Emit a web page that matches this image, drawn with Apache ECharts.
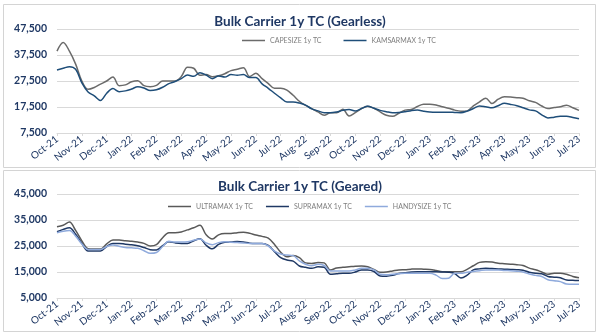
<!DOCTYPE html>
<html>
<head>
<meta charset="utf-8">
<title>Bulk Carrier 1y TC</title>
<script src="https://cdn.jsdelivr.net/npm/echarts@6/dist/echarts.min.js"></script>
<style>
  html, body { margin: 0; padding: 0; background: #ffffff; }
  #chart { width: 600px; height: 333px; }
</style>
</head>
<body>
<div id="chart"></div>
<script>
// Month tick labels, Oct-21 .. Jul-23
const monthLabels = ['Oct-21','Nov-21','Dec-21','Jan-22','Feb-22','Mar-22','Apr-22','May-22','Jun-22',
  'Jul-22','Aug-22','Sep-22','Oct-22','Nov-22','Dec-22','Jan-23','Feb-23','Mar-23','Apr-23','May-23',
  'Jun-23','Jul-23'];

// Four readings per month (roughly weekly), one row per month
const samplesPerMonth = 4;

// Gearless: 1-year time-charter rates, USD/day
const capesize = [
  39000, 42300, 39000, 34000,
  27500, 24300, 25000, 26300,
  27500, 29000, 25700, 26000,
  27200, 27600, 25700, 25300,
  25800, 27500, 27500, 27500,
  29200, 32800, 32400, 29700,
  30000, 29100, 29500, 30300,
  31500, 32000, 32600, 29200,
  30500, 28400, 26500, 24700,
  24700, 24000, 22000, 19700,
  18100, 16900, 15600, 14300,
  15300, 15300, 16600, 14000,
  15300, 16900, 17800, 17000,
  15600, 14300, 13900, 15100,
  16300, 16500, 17700, 18600,
  18600, 18300, 17600, 17000,
  16300, 15900, 16000, 17900,
  19500, 20900, 18800, 20500,
  21400, 21300, 21100, 20900,
  19900, 19300, 17900, 16900,
  17300, 17600, 18200, 17200,
  16200
];
const kamsarmax = [
  31700, 32400, 33000, 32000,
  26800, 23300, 21800, 20000,
  22800, 24600, 23400, 23700,
  24400, 25300, 24800, 23800,
  24100, 25100, 26500, 27300,
  28400, 29800, 29300, 30700,
  29800, 28400, 29400, 29000,
  30000, 29700, 30000, 28800,
  28800, 26400, 24700, 22800,
  21000, 19400, 19400, 19000,
  18200, 16800, 16000, 15300,
  15300, 15600, 16200, 16500,
  16000, 16900, 17800, 17000,
  16200, 15700, 15300, 15400,
  15700, 16100, 16300, 15900,
  15600, 15500, 15500, 15500,
  15400, 15300, 15900, 16900,
  17900, 17600, 17200, 18000,
  18900, 18500, 18000, 17200,
  16400, 16000, 14500, 13300,
  13600, 13900, 13900, 13500,
  13000
];

// Geared: 1-year time-charter rates, USD/day
const ultramax = [
  32400, 33000, 34200, 31000,
  27000, 24000, 23800, 23800,
  25800, 27300, 27300, 27000,
  26800, 26500, 26000, 25000,
  25500, 28200, 30100, 30100,
  30400, 31200, 32000, 33000,
  29300, 27700, 29300, 29800,
  29800, 30100, 30300, 29900,
  29200, 28700, 28000, 25600,
  22600, 20900, 21300, 20500,
  18500, 18300, 18700, 18500,
  15800, 16500, 16800, 17000,
  17200, 17300, 17000, 16000,
  14900, 15000, 15400, 15800,
  15900, 16100, 16200, 16100,
  16000, 15600, 15100, 15100,
  15100, 15100, 16000, 17400,
  18700, 18900, 18800, 18400,
  18200, 18000, 17800, 17500,
  16500, 15900, 15000, 14100,
  14500, 14500, 14100, 13300,
  12800
];
const supramax = [
  30500, 31400, 32000, 29500,
  26000, 23100, 23100, 23100,
  24800, 26000, 26000, 25700,
  25500, 25100, 24400, 23600,
  23500, 25100, 26600, 26200,
  26000, 26000, 27000, 27800,
  25300, 23900, 25600, 26400,
  26500, 26700, 26500, 26100,
  26000, 26000, 25200, 22800,
  20500, 19600, 19200, 17300,
  16800, 16400, 17000, 16800,
  14100, 14300, 14500, 14500,
  15000, 15800, 15800, 15200,
  13500, 13400, 13700, 14400,
  14700, 15000, 15100, 15100,
  15100, 15100, 15000, 14900,
  14400, 12700, 13800, 15800,
  16200, 16400, 16300, 16200,
  16100, 16000, 15900, 15700,
  14900, 14500, 14300, 13300,
  13000, 12800, 11900, 11800,
  11700
];
const handysize = [
  30100, 30700, 31000, 28800,
  25800, 23700, 23700, 23700,
  24800, 25400, 24900, 24400,
  24300, 24100, 23200, 22200,
  22500, 24800, 26800, 26500,
  26500, 26600, 27200, 27700,
  26200, 25500, 26300, 26600,
  26400, 26300, 26200, 26000,
  26000, 26000, 25000, 23000,
  21900, 21500, 21300, 19300,
  18000, 17400, 18000, 17500,
  15400, 15400, 15400, 15400,
  15800, 16400, 16400, 15800,
  14100, 13900, 14100, 14300,
  14500, 14500, 14500, 14500,
  14500, 13800, 12500, 12600,
  14500, 14500, 14900, 15200,
  15500, 15800, 15800, 15800,
  15600, 15500, 15300, 15000,
  14200, 13700, 13300, 12000,
  11600, 11300, 10400, 10300,
  10300
];

// Y-axis ranges and tick step for each panel
const gearlessAxis = { min: 7500, max: 47500, step: 10000 };
const gearedAxis = { min: 5000, max: 45000, step: 10000 };

const NAVY = '#1f3864';
const GRID_LINE = '#d9d9d9';
const FONT = 'Lato, "Open Sans", sans-serif';

// Month position (0 = Oct-21) paired with each reading
function toPoints(values) {
  return values.map((v, i) => [i / samplesPerMonth, v]);
}

function fmtThousands(v) {
  return String(v).replace(/\B(?=(\d{3})+(?!\d))/g, ',');
}

function xAxisFor(gridIndex) {
  return {
    type: 'value', gridIndex,
    min: 0, max: monthLabels.length - 1, interval: 1,
    axisLine: { show: true, lineStyle: { color: GRID_LINE, width: 1 } },
    axisTick: { show: true, length: 3, lineStyle: { color: GRID_LINE } },
    splitLine: { show: false },
    axisLabel: {
      rotate: 38, margin: 5, fontSize: 10, fontWeight: 'normal',
      color: NAVY, fontFamily: FONT,
      formatter: v => monthLabels[Math.round(v)] || ''
    }
  };
}

function yAxisFor(gridIndex, range) {
  return {
    type: 'value', gridIndex,
    min: range.min, max: range.max, interval: range.step,
    axisLine: { show: false },
    axisTick: { show: false },
    splitLine: { show: true, lineStyle: { color: GRID_LINE, width: 1 } },
    axisLabel: {
      margin: 10, fontSize: 10.5, fontWeight: 'bold', color: NAVY, fontFamily: FONT,
      formatter: v => fmtThousands(v)
    }
  };
}

function lineSeries(name, values, color, axisIndex) {
  return {
    name, type: 'line',
    xAxisIndex: axisIndex, yAxisIndex: axisIndex,
    data: toPoints(values),
    smooth: 0.35, showSymbol: false, symbol: 'none',
    lineStyle: { color, width: 1.5 },
    itemStyle: { color },
    emphasis: { disabled: true }
  };
}

const legendText = { fontSize: 7, color: '#7f7f7f', fontFamily: FONT };

const option = {
  animation: false,
  backgroundColor: '#ffffff',
  graphic: [
    { type: 'rect', shape: { x: 3.5, y: 4.5, width: 592, height: 163 },
      style: { fill: 'none', stroke: '#d4d4d4', lineWidth: 1 }, silent: true },
    { type: 'rect', shape: { x: 3.5, y: 170.5, width: 592, height: 161 },
      style: { fill: 'none', stroke: '#d4d4d4', lineWidth: 1 }, silent: true }
  ],
  title: [
    { text: 'Bulk Carrier 1y TC (Gearless)', left: 'center', top: 15, padding: 0,
      textStyle: { fontSize: 13.5, fontWeight: 'bold', color: NAVY, fontFamily: FONT } },
    { text: 'Bulk Carrier 1y TC (Geared)', left: 'center', top: 180, padding: 0,
      textStyle: { fontSize: 13.5, fontWeight: 'bold', color: NAVY, fontFamily: FONT } }
  ],
  legend: [
    { data: ['CAPESIZE 1y TC', 'KAMSARMAX 1y TC'], left: 242, top: 37,
      icon: 'rect', itemWidth: 23, itemHeight: 1.5, itemGap: 22, padding: 0,
      textStyle: legendText },
    { data: ['ULTRAMAX 1y TC', 'SUPRAMAX 1y TC', 'HANDYSIZE 1y TC'], left: 168, top: 203,
      icon: 'rect', itemWidth: 23, itemHeight: 1.5, itemGap: 13, padding: 0,
      textStyle: legendText }
  ],
  grid: [
    { left: 57, right: 21, top: 29, height: 104 },
    { left: 57, right: 21, top: 194, height: 104 }
  ],
  xAxis: [xAxisFor(0), xAxisFor(1)],
  yAxis: [yAxisFor(0, gearlessAxis), yAxisFor(1, gearedAxis)],
  series: [
    lineSeries('CAPESIZE 1y TC', capesize, '#6b6b6b', 0),
    lineSeries('KAMSARMAX 1y TC', kamsarmax, '#1f4e79', 0),
    lineSeries('ULTRAMAX 1y TC', ultramax, '#595959', 1),
    lineSeries('SUPRAMAX 1y TC', supramax, '#1f3864', 1),
    lineSeries('HANDYSIZE 1y TC', handysize, '#8faadc', 1)
  ]
};

const chart = echarts.init(document.getElementById('chart'), null, { renderer: 'canvas' });
chart.setOption(option);
</script>
</body>
</html>
